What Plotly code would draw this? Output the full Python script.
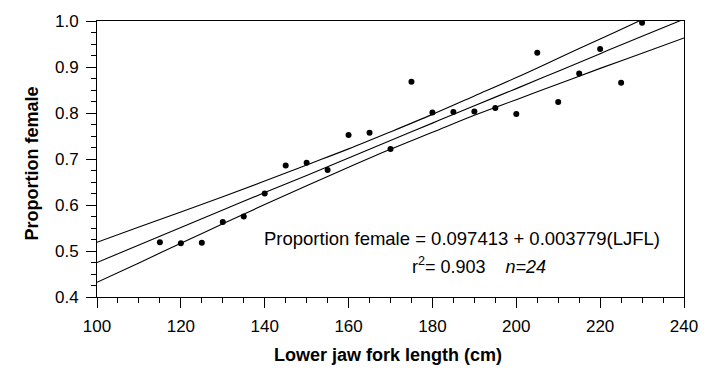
import plotly.graph_objects as go

ljfl = [115, 120, 125, 130, 135, 140, 145, 150, 155, 160, 165, 170,
        175, 180, 185, 190, 195, 200, 205, 210, 215, 220, 225, 230]
prop_female = [0.519, 0.517, 0.518, 0.563, 0.575, 0.625, 0.686, 0.692, 0.676, 0.752, 0.757, 0.722,
               0.868, 0.801, 0.802, 0.803, 0.811, 0.798, 0.931, 0.824, 0.886, 0.939, 0.866, 0.996]

# Fitted line and confidence band
band_x = [100, 110, 120, 130, 140, 150, 160, 170, 180, 190, 200, 210, 220, 230, 240]
fit_y = [0.475, 0.513, 0.551, 0.589, 0.627, 0.664, 0.702, 0.740, 0.778, 0.816, 0.853, 0.891, 0.929, 0.967, 1.004]
upper_y = [0.519, 0.552, 0.585, 0.618, 0.652, 0.687, 0.722, 0.759, 0.797, 0.837, 0.877, 0.919, 0.961, 1.003, 1.046]
lower_y = [0.432, 0.474, 0.517, 0.559, 0.601, 0.642, 0.682, 0.721, 0.758, 0.795, 0.829, 0.863, 0.897, 0.930, 0.963]

x_ticks = [100, 120, 140, 160, 180, 200, 220, 240]
y_ticks = [0.4, 0.5, 0.6, 0.7, 0.8, 0.9, 1.0]

FONT = "Liberation Sans, Arial, Helvetica, sans-serif"
W, H = 718, 371
ML, MR, MT, MB = 97, 34, 16, 74

fig = go.Figure()
for ys in (upper_y, fit_y, lower_y):
    fig.add_trace(go.Scatter(x=band_x, y=ys, mode="lines", line=dict(color="black", width=1.1, shape="spline"),
                             hoverinfo="skip", showlegend=False))
fig.add_trace(go.Scatter(x=ljfl, y=prop_female, mode="markers",
                         marker=dict(color="black", size=6), showlegend=False))

fig.update_layout(
    width=W, height=H,
    margin=dict(l=ML, r=MR, t=MT, b=MB),
    paper_bgcolor="white", plot_bgcolor="white",
    font=dict(family=FONT, size=17, color="black"),
    showlegend=False,
)
fig.update_xaxes(range=[100, 240], tickvals=x_ticks, ticks="outside", ticklen=10, tickwidth=1,
                 tickcolor="black", showline=True, linecolor="black", linewidth=1, mirror=True,
                 showgrid=False, zeroline=False, tickfont=dict(size=17), ticklabelstandoff=4,
                 minor=dict(dtick=5, tick0=100, ticks="outside", ticklen=5, tickcolor="black", showgrid=False))
fig.update_yaxes(range=[0.4, 1.0], tickvals=y_ticks, tickformat=".1f", ticks="outside", ticklen=10, tickwidth=1,
                 tickcolor="black", showline=True, linecolor="black", linewidth=1, mirror=True,
                 showgrid=False, zeroline=False, tickfont=dict(size=17), ticklabelstandoff=4,
                 minor=dict(dtick=0.025, tick0=0.4, ticks="outside", ticklen=5, tickcolor="black", showgrid=False))


def px_to_paper_x(px):
    return (px - ML) / (W - ML - MR)


def px_to_paper_y(py):
    return (H - MB - py) / (H - MT - MB)


fig.add_annotation(x=px_to_paper_x(388), y=px_to_paper_y(356), xref="paper", yref="paper",
                   xanchor="center", yanchor="middle",
                   text="<b>Lower jaw fork length (cm)</b>", showarrow=False, font=dict(size=18))
fig.add_annotation(x=px_to_paper_x(32), y=px_to_paper_y(161), xref="paper", yref="paper",
                   xanchor="center", yanchor="middle",
                   text="<b>Proportion female</b>", textangle=-90, showarrow=False, font=dict(size=18))
fig.add_annotation(x=px_to_paper_x(662), y=px_to_paper_y(237), xref="paper", yref="paper",
                   xanchor="right", yanchor="middle",
                   text="Proportion female = 0.097413 + 0.003779(LJFL)", showarrow=False, font=dict(size=18.5))
fig.add_annotation(x=px_to_paper_x(410), y=px_to_paper_y(265), xref="paper", yref="paper",
                   xanchor="left", yanchor="middle",
                   text="r<sup>2</sup>= 0.903    <i>n=24</i>", showarrow=False, font=dict(size=18))

fig.write_html("out.html")
